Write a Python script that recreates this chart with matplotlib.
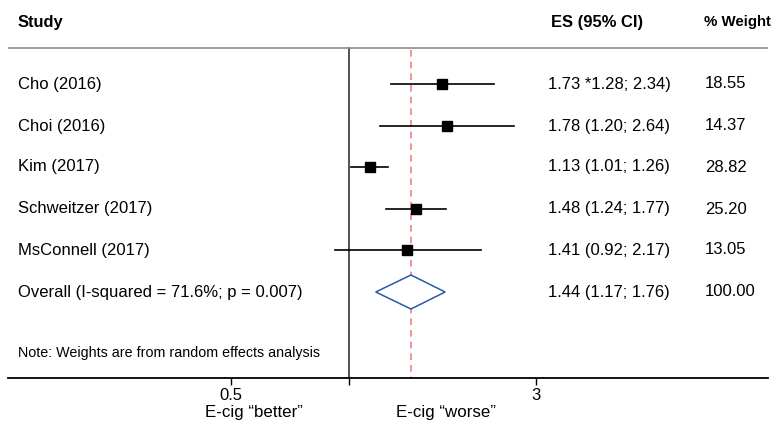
import matplotlib.pyplot as plt
from matplotlib.transforms import blended_transform_factory
from matplotlib.patches import Polygon

studies = ["Cho (2016)", "Choi (2016)", "Kim (2017)", "Schweitzer (2017)", "MsConnell (2017)"]
es = [1.73, 1.78, 1.13, 1.48, 1.41]
ci_low = [1.28, 1.20, 1.01, 1.24, 0.92]
ci_high = [2.34, 2.64, 1.26, 1.77, 2.17]
ci_labels = ["1.73 *1.28; 2.34)", "1.78 (1.20; 2.64)", "1.13 (1.01; 1.26)",
             "1.48 (1.24; 1.77)", "1.41 (0.92; 2.17)"]
weights = ["18.55", "14.37", "28.82", "25.20", "13.05"]

overall_label = "Overall (I-squared = 71.6%; p = 0.007)"
overall_es, overall_low, overall_high = 1.44, 1.17, 1.76
overall_ci_label = "1.44 (1.17; 1.76)"
overall_weight = "100.00"

tick_vals = [0.5, 1, 3]
tick_labels = ["0.5", "", "3"]

plt.rcParams['font.family'] = ['Liberation Sans', 'DejaVu Sans']

W, H = 777, 424
fig = plt.figure(figsize=(W / 100, H / 100), dpi=100)
# axes spans the plotting band, bottom spine is the x axis line
x0, x1 = 8, 768
y_axis = 378
ax = fig.add_axes([x0 / W, (H - y_axis) / H, (x1 - x0) / W, y_axis / H])
ax.set_xscale('log')
ax.set_xlim(0.1345, 11.76)
ax.set_ylim(y_axis, 0)
ax.minorticks_off()
for s in ['top', 'left', 'right']:
    ax.spines[s].set_visible(False)
ax.spines['bottom'].set_linewidth(1.3)
ax.set_yticks([])
ax.set_xticks(tick_vals)
ax.set_xticklabels(tick_labels, fontsize=12)
ax.tick_params(axis='x', direction='out', length=5, width=1, pad=2)

# figure-pixel x, data y
tr = blended_transform_factory(fig.transFigure, ax.transData)

def fx(px):
    return px / W

fs = 12
ax.text(fx(18), 22, "Study", transform=tr, fontsize=11.9, fontweight='bold', va='center', clip_on=False)
ax.text(fx(551), 22, "ES (95% CI)", transform=tr, fontsize=11.9, fontweight='bold', va='center', clip_on=False)
ax.text(fx(704), 22, "% Weight", transform=tr, fontsize=10.8, fontweight='bold', va='center', clip_on=False)

ax.axhline(48, color='#8c8c8c', lw=1.2)

row_y = [84, 126, 167, 209, 250]
overall_y = 292

ax.plot([1, 1], [48, y_axis], color='#333333', lw=1.2, zorder=1)
ax.plot([overall_es, overall_es], [50, y_axis], color='#f08080', lw=1.2,
        ls=(0, (4, 3)), zorder=1)

for name, e, lo, hi, lab, w, y in zip(studies, es, ci_low, ci_high, ci_labels, weights, row_y):
    ax.plot([lo, hi], [y, y], color='black', lw=1.2, zorder=2)
    ax.plot([e], [y], marker='s', color='black', markersize=7.2, zorder=3)
    ax.text(fx(18), y, name, transform=tr, fontsize=fs, va='center', clip_on=False)
    ax.text(fx(548), y, lab, transform=tr, fontsize=fs, va='center', clip_on=False)
    ax.text(fx(705), y, w, transform=tr, fontsize=fs, va='center', clip_on=False)

dh = 17
diamond = Polygon([[overall_low, overall_y], [overall_es, overall_y - dh],
                   [overall_high, overall_y], [overall_es, overall_y + dh]],
                  closed=True, facecolor='white', edgecolor='#2c5aa8', lw=1.1, zorder=3)
ax.add_patch(diamond)
ax.text(fx(18), overall_y, overall_label, transform=tr, fontsize=fs, va='center', clip_on=False)
ax.text(fx(548), overall_y, overall_ci_label, transform=tr, fontsize=fs, va='center', clip_on=False)
ax.text(fx(705), overall_y, overall_weight, transform=tr, fontsize=fs, va='center', clip_on=False)

ax.text(fx(18), 353, "Note: Weights are from random effects analysis", transform=tr,
        fontsize=10.3, va='center', clip_on=False)

fig.text(254 / W, 1 - 413 / H, "E-cig \u201cbetter\u201d", fontsize=12.2, ha='center', va='center')
fig.text(446 / W, 1 - 413 / H, "E-cig \u201cworse\u201d", fontsize=12.2, ha='center', va='center')

fig.savefig('out.png', dpi=100)
